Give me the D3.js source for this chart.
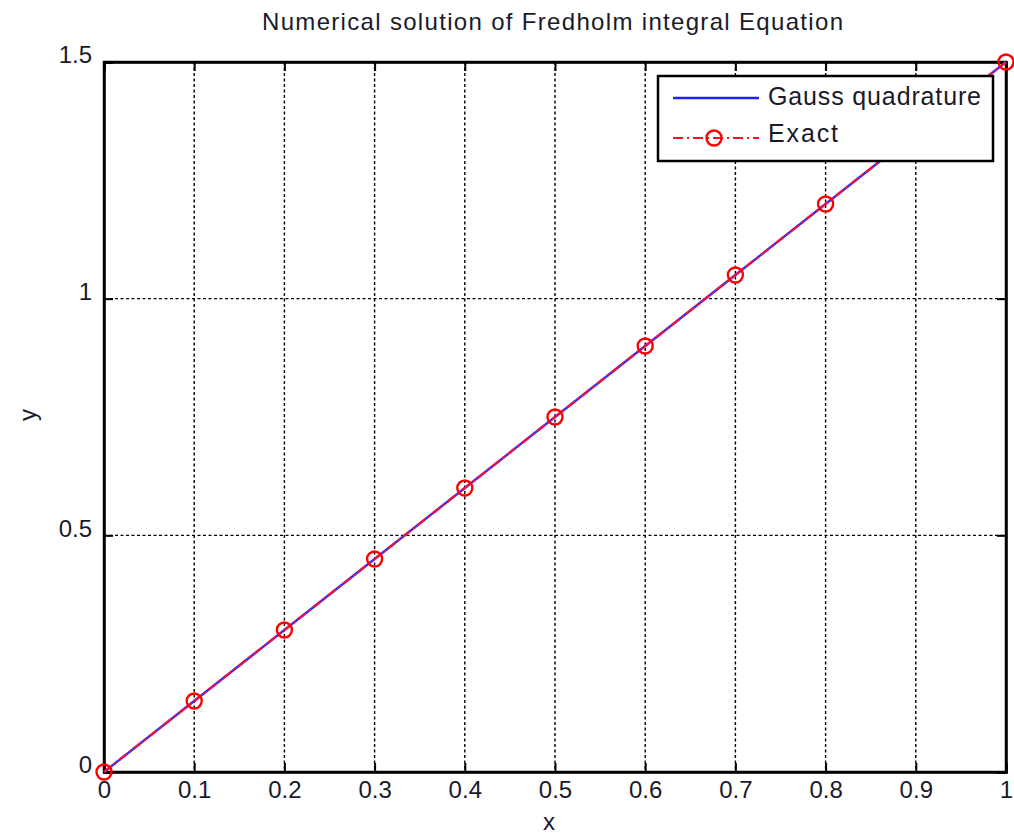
<!DOCTYPE html>
<html><head><meta charset="utf-8">
<script src="https://cdn.jsdelivr.net/npm/d3@7"></script>
<style>body{margin:0;background:#fff;} text{font-family:"Liberation Sans",Arial,sans-serif;}</style>
</head><body>
<svg id="c" width="1014" height="838"></svg>
<script>
const xValues = [0,0.1,0.2,0.3,0.4,0.5,0.6,0.7,0.8,0.9,1.0];
const gaussY = [0,0.15,0.30,0.45,0.60,0.75,0.90,1.05,1.20,1.35,1.50];
const exactY = [0,0.15,0.30,0.45,0.60,0.75,0.90,1.05,1.20,1.35,1.50];
const xTicks = [0,0.1,0.2,0.3,0.4,0.5,0.6,0.7,0.8,0.9,1];
const yTicks = [0,0.5,1,1.5];
const seriesNames = ["Gauss quadrature","Exact"];

const svg = d3.select("#c");
const L=104,R=1006,T=62,B=772;
const x = d3.scaleLinear().domain([0,1]).range([L,R]);
const y = d3.scaleLinear().domain([0,1.5]).range([B,T]);

// grid
const g = svg.append("g");
g.selectAll(".gx").data(xTicks.slice(1,-1)).join("line")
  .attr("x1",d=>x(d)).attr("x2",d=>x(d)).attr("y1",T).attr("y2",B)
  .attr("stroke","#000").attr("stroke-width",1.4).attr("stroke-dasharray","3,2.5");
g.selectAll(".gy").data(yTicks.slice(1,-1)).join("line")
  .attr("x1",L).attr("x2",R).attr("y1",d=>y(d)).attr("y2",d=>y(d))
  .attr("stroke","#000").attr("stroke-width",1.4).attr("stroke-dasharray","3,2.5");

// axes
const fmt = d=> String(d);
const xb = svg.append("g").attr("transform",`translate(0,${B})`)
  .call(d3.axisBottom(x).tickValues(xTicks).tickSize(-9).tickPadding(9).tickFormat(fmt));
const xt = svg.append("g").attr("transform",`translate(0,${T})`)
  .call(d3.axisTop(x).tickValues(xTicks).tickSize(-9).tickFormat(""));
const yl = svg.append("g").attr("transform",`translate(${L},0)`)
  .call(d3.axisLeft(y).tickValues(yTicks).tickSize(-9).tickPadding(12).tickFormat(fmt));
const yr = svg.append("g").attr("transform",`translate(${R},0)`)
  .call(d3.axisRight(y).tickValues(yTicks).tickSize(-9).tickFormat(""));
[xb,xt,yl,yr].forEach(a=>{
  a.select(".domain").attr("stroke","#000").attr("stroke-width",2.5);
  a.selectAll(".tick line").attr("stroke","#000").attr("stroke-width",2);
  a.selectAll(".tick text").attr("font-size",24).attr("fill","#1a1a2a").attr("font-family","Liberation Sans, Arial, sans-serif");
});
yl.selectAll(".tick text").attr("dy","0.32em").attr("y",-7);
svg.append("rect").attr("x",L).attr("y",T).attr("width",R-L).attr("height",B-T)
  .attr("fill","none").attr("stroke","#000").attr("stroke-width",2.5);

// lines
const lineG = d3.line().x((d,i)=>x(xValues[i])).y(d=>y(d));
svg.append("path").datum(gaussY).attr("d",lineG).attr("fill","none")
  .attr("stroke","#3030ff").attr("stroke-width",2.4);
svg.append("path").datum(exactY).attr("d",lineG).attr("fill","none")
  .attr("stroke","#ff1030").attr("stroke-width",2.4).attr("stroke-dasharray","10,3,3,3").attr("opacity",0.85);
svg.selectAll(".m").data(exactY).join("circle")
  .attr("cx",(d,i)=>x(xValues[i])).attr("cy",d=>y(d)).attr("r",7.5)
  .attr("fill","none").attr("stroke","#ff0000").attr("stroke-width",2.4);

// legend
const lg = svg.append("g");
lg.append("rect").attr("x",658).attr("y",76).attr("width",335).attr("height",85)
  .attr("fill","#fff").attr("stroke","#000").attr("stroke-width",2.5);
lg.append("line").attr("x1",673).attr("x2",759).attr("y1",98).attr("y2",98)
  .attr("stroke","#2020ff").attr("stroke-width",2.4);
lg.append("line").attr("x1",673).attr("x2",759).attr("y1",138).attr("y2",138)
  .attr("stroke","#ff1020").attr("stroke-width",2).attr("stroke-dasharray","10,4,2,4");
lg.append("circle").attr("cx",714).attr("cy",138).attr("r",7.5)
  .attr("fill","none").attr("stroke","#ff0000").attr("stroke-width",2.4);
const legW = [213, 70];
lg.selectAll(".lt").data(seriesNames).join("text")
  .attr("x",768).attr("y",(d,i)=>105+i*37).attr("font-size",25).attr("fill","#1a1a2a")
  .attr("textLength",(d,i)=>legW[i]).attr("lengthAdjust","spacing").text(d=>d);

// titles
svg.append("text").attr("x",262).attr("y",30)
  .attr("font-size",24).attr("fill","#1a1a2a").attr("textLength",581).attr("lengthAdjust","spacing")
  .text("Numerical solution of Fredholm integral Equation");
svg.append("text").attr("x",549).attr("y",830).attr("text-anchor","middle")
  .attr("font-size",24).attr("fill","#1a1a2a").text("x");
svg.append("text").attr("transform","translate(36,415) rotate(-90)").attr("text-anchor","middle")
  .attr("font-size",24).attr("fill","#1a1a2a").text("y");
</script>
</body></html>
